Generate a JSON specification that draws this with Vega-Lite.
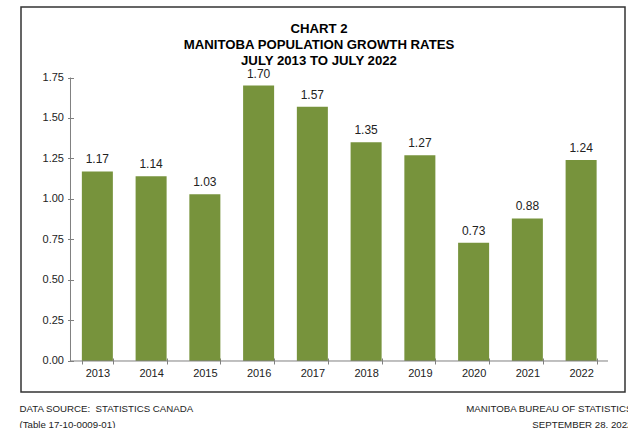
{
  "$schema": "https://vega.github.io/schema/vega-lite/v6.json",
  "width": 604,
  "height": 385,
  "autosize": {"type": "none"},
  "padding": {"left": 21, "top": 7, "right": 3, "bottom": 36},
  "background": "white",
  "config": {
    "view": {"stroke": "#333333", "strokeWidth": 1.5},
    "font": "Liberation Sans"
  },
  "title": {
    "text": ["CHART 2", "MANITOBA POPULATION GROWTH RATES", "JULY 2013 TO JULY 2022"],
    "anchor": "middle",
    "frame": "group",
    "baseline": "top",
    "offset": -61,
    "dx": -4,
    "fontSize": 13.2,
    "fontWeight": "bold",
    "lineHeight": 16,
    "color": "#000000"
  },
  "datasets": {
    "growth": [
      {"year": "2013", "rate": 1.17},
      {"year": "2014", "rate": 1.14},
      {"year": "2015", "rate": 1.03},
      {"year": "2016", "rate": 1.70},
      {"year": "2017", "rate": 1.57},
      {"year": "2018", "rate": 1.35},
      {"year": "2019", "rate": 1.27},
      {"year": "2020", "rate": 0.73},
      {"year": "2021", "rate": 0.88},
      {"year": "2022", "rate": 1.24}
    ]
  },
  "layer": [
    {
      "data": {"name": "growth"},
      "encoding": {
        "x": {
          "field": "year",
          "type": "ordinal",
          "scale": {"paddingInner": 0.423, "paddingOuter": 0.83, "align": 0.682},
          "axis": {
            "title": ["DATA SOURCE:\u00a0 STATISTICS CANADA", "(Table 17-10-0009-01)"],
            "titleAlign": "left",
            "titleAnchor": "start",
            "titleX": -2,
            "titleY": 45,
            "titleBaseline": "top",
            "titleFontSize": 9.7,
            "titleFontWeight": "normal",
            "titleLineHeight": 16,
            "titleColor": "#222222",
            "labelAngle": 0,
            "labelFontSize": 11,
            "labelColor": "#222222",
            "labelPadding": 3,
            "tickSize": 6,
            "tickBand": "extent",
            "tickColor": "#808080",
            "domain": false,
            "offset": -34
          }
        },
        "y": {
          "field": "rate",
          "type": "quantitative",
          "scale": {"domain": [-0.1914, 2.1852], "nice": false, "zero": false},
          "axis": {
            "values": [0, 0.25, 0.5, 0.75, 1, 1.25, 1.5, 1.75],
            "format": ".2f",
            "title": ["MANITOBA BUREAU OF STATISTICS", "SEPTEMBER 28, 2022"],
            "titleAngle": 0,
            "titleAlign": "right",
            "titleBaseline": "top",
            "titleX": 558.5,
            "titleY": 396,
            "titleFontSize": 9.7,
            "titleFontWeight": "normal",
            "titleLineHeight": 16,
            "titleColor": "#222222",
            "labelFontSize": 11,
            "labelColor": "#222222",
            "labelPadding": 4,
            "tickSize": 6,
            "tickColor": "#808080",
            "domain": false,
            "grid": false,
            "offset": -52.5
          }
        }
      },
      "layer": [
        {
          "mark": {"type": "bar", "color": "#77933C"},
          "encoding": {"y2": {"datum": 0}}
        },
        {
          "mark": {"type": "text", "baseline": "alphabetic", "dy": -8, "fontSize": 12, "color": "#222222"},
          "encoding": {"text": {"field": "rate", "type": "quantitative", "format": ".2f"}}
        }
      ]
    },
    {
      "data": {"values": [{}]},
      "layer": [
        {
          "mark": {"type": "rule", "color": "#808080", "strokeWidth": 1},
          "encoding": {
            "x": {"datum": 0, "type": "quantitative", "scale": {"domain": [-0.9209, 10.3163], "nice": false, "zero": false}, "axis": null},
            "x2": {"datum": 10},
            "y": {"datum": 0, "type": "quantitative", "scale": {"domain": [-0.1914, 2.1852], "nice": false, "zero": false}}
          }
        },
        {
          "mark": {"type": "rule", "color": "#808080", "strokeWidth": 1},
          "encoding": {
            "x": {"datum": 0, "type": "quantitative", "scale": {"domain": [-0.9209, 10.3163], "nice": false, "zero": false}, "axis": null},
            "y": {"datum": 0, "type": "quantitative", "scale": {"domain": [-0.1914, 2.1852], "nice": false, "zero": false}},
            "y2": {"datum": 1.75}
          }
        }
      ]
    }
  ],
  "resolve": {"scale": {"x": "independent"}}
}
